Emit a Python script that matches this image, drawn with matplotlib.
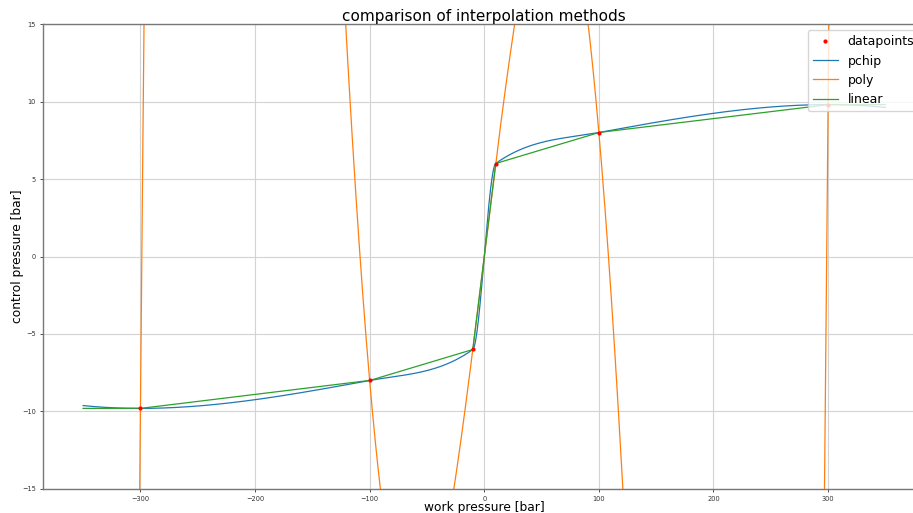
import numpy as np
import matplotlib
matplotlib.use("Agg")
import matplotlib.pyplot as plt

# data points
x_pts = np.array([-300, -100, -10, 10, 100, 300], dtype=float)
y_pts = np.array([-9.8, -8.0, -6.0, 6.0, 8.0, 9.8])
x_min, x_max = -350, 350


def pchip_eval(x, y, xq):
    h = np.diff(x)
    m = np.diff(y) / h
    n = len(x)
    d = np.zeros(n)
    for k in range(1, n - 1):
        if m[k - 1] * m[k] <= 0:
            d[k] = 0.0
        else:
            w1 = 2 * h[k] + h[k - 1]
            w2 = h[k] + 2 * h[k - 1]
            d[k] = (w1 + w2) / (w1 / m[k - 1] + w2 / m[k])

    def edge(h0, h1, m0, m1):
        dd = ((2 * h0 + h1) * m0 - h0 * m1) / (h0 + h1)
        if np.sign(dd) != np.sign(m0):
            dd = 0.0
        elif np.sign(m0) != np.sign(m1) and abs(dd) > 3 * abs(m0):
            dd = 3 * m0
        return dd

    d[0] = edge(h[0], h[1], m[0], m[1])
    d[-1] = edge(h[-1], h[-2], m[-1], m[-2])
    idx = np.clip(np.searchsorted(x, xq) - 1, 0, n - 2)
    x0 = x[idx]; hh = h[idx]
    t = (xq - x0) / hh
    h00 = 2 * t**3 - 3 * t**2 + 1
    h10 = t**3 - 2 * t**2 + t
    h01 = -2 * t**3 + 3 * t**2
    h11 = t**3 - t**2
    return h00 * y[idx] + h10 * hh * d[idx] + h01 * y[idx + 1] + h11 * hh * d[idx + 1]


xs = np.linspace(x_min, x_max, 2000)
y_pchip = pchip_eval(x_pts, y_pts, xs)
y_poly = np.polyval(np.polyfit(x_pts, y_pts, len(x_pts) - 1), xs)
y_lin = np.interp(xs, x_pts, y_pts)

fig = plt.figure(figsize=(9.13, 5.13), dpi=100)
ax = fig.add_axes([0.0471, 0.0468, 0.9666, 0.9064])
ax.plot(x_pts, y_pts, 'r.', markersize=4, label='datapoints', zorder=5)
ax.plot(xs, y_pchip, color='#1f77b4', lw=0.9, label='pchip')
ax.plot(xs, y_poly, color='#ff7f0e', lw=0.9, label='poly')
ax.plot(xs, y_lin, color='#2ca02c', lw=0.9, label='linear')
ax.set_ylim(-15, 15)
ax.set_xlim(-385, 385)
ax.grid(True, color='#d3d3d3', lw=0.8)
ax.set_axisbelow(True)
ax.tick_params(labelsize=4.8, length=2.5, width=0.6, colors='#333333', pad=2.5)
for s in ax.spines.values():
    s.set_color('#777777')
    s.set_linewidth(1.0)
ax.set_title('comparison of interpolation methods', fontsize=11, pad=2)
ax.set_xlabel('work pressure [bar]', fontsize=8.8, labelpad=-1)
ax.set_ylabel('control pressure [bar]', fontsize=8.8, labelpad=-1)
ax.legend(loc='upper right', fontsize=9)
fig.savefig('out.png', dpi=100)
